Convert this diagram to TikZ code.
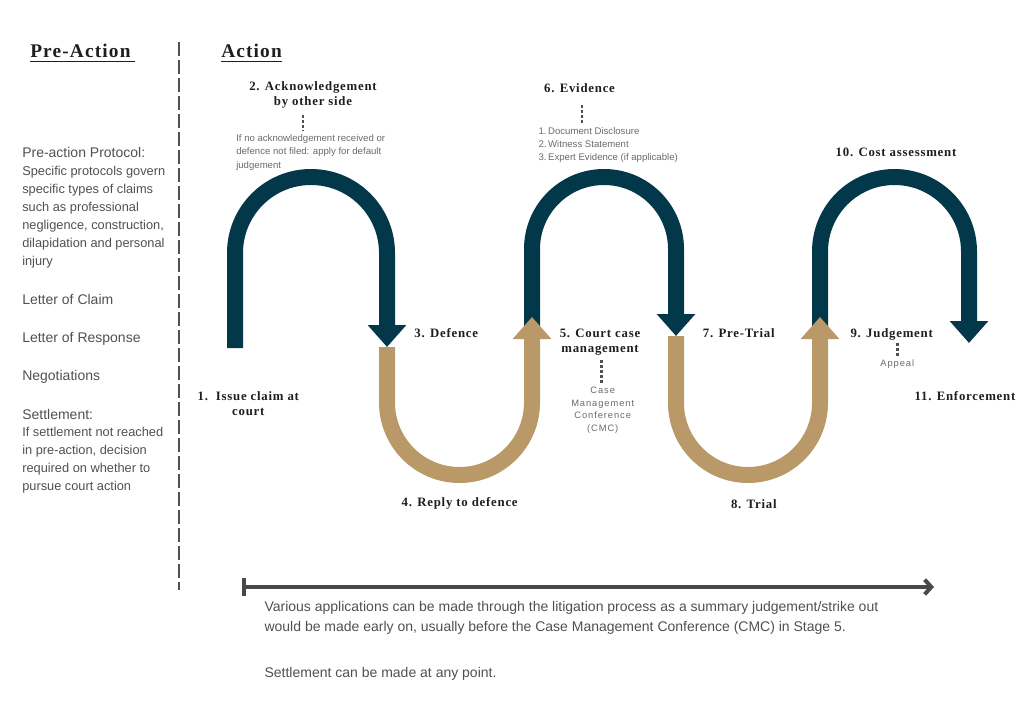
\documentclass[tikz,border=0pt]{standalone}
\usepackage{fontspec}
\setmainfont{Liberation Sans}
\newfontfamily\headfont[LetterSpace=6]{Liberation Serif}
\newfontfamily\notefont[LetterSpace=10]{Liberation Sans}
\usetikzlibrary{arrows.meta}
\definecolor{navy}{HTML}{03384A}
\definecolor{tan}{HTML}{B99967}
\definecolor{bodygray}{HTML}{505050}
\definecolor{notegray}{HTML}{6A6A6A}
\definecolor{ink}{HTML}{1E1E1E}

\begin{document}
\begin{tikzpicture}[x=0.75pt,y=-0.75pt,
	band/.style={line width=12pt,-{Triangle[length=16.5pt,width=28pt]}},
	stage/.style={font=\headfont\bfseries\fontsize{9.6}{11.25}\selectfont,text=ink,align=center,inner sep=0pt,anchor=base},
	heading/.style={font=\headfont\bfseries\fontsize{14.5}{17}\selectfont,text=ink,inner sep=0pt,anchor=base west},
	side/.style={font=\fontsize{9.6}{13.4}\selectfont,text=bodygray,align=left,inner sep=0pt,anchor=base west},
	sidetitle/.style={font=\fontsize{10.5}{13}\selectfont,text=bodygray,inner sep=0pt,anchor=base west},
	foot/.style={font=\fontsize{10.5}{15}\selectfont,text=bodygray,align=left,inner sep=0pt,anchor=base west},
	note/.style={font=\fontsize{7.2}{9.9}\selectfont,text=notegray,align=left,inner sep=0pt,anchor=base west},
	spaced/.style={font=\notefont\fontsize{7}{9.6}\selectfont,text=notegray,align=center,inner sep=0pt,anchor=base},
	dots/.style={draw=bodygray,line width=2.2pt,dash pattern=on 2.2pt off 1.5pt,shorten >=2.5pt},
	rule/.style={draw=ink,line width=1pt},
	divider/.style={draw=bodygray,line width=1.9pt,dash pattern=on 10.5pt off 3pt},
	timeline/.style={draw=bodygray!90!black,line width=3pt,{Bar[width=13.5pt]}-{Straight Barb[length=5pt,width=11pt]}}
]
	\useasboundingbox (0,0) rectangle (1024,724);

	\node[heading] (preaction) at (30,57.7) {Pre-Action};
	\node[heading] (action) at (221,57.7) {Action};
	\draw[rule] ([yshift=-2.5pt]preaction.south west) -- ([yshift=-2.5pt,xshift=3pt]preaction.south east);
	\draw[rule] ([yshift=-2.5pt]action.south west) -- ([yshift=-2.5pt]action.south east);

	\draw[divider] (179,42) -- (179,590);

	\node[sidetitle] (protocol) at (22,157.7) {Pre-action Protocol:};
	\node[side] (protocolbody) at (22,265) {Specific protocols govern\\specific types of claims\\such as professional\\negligence, construction,\\dilapidation and personal\\injury};
	\node[sidetitle] (claim) at (22,304) {Letter of Claim};
	\node[sidetitle] (response) at (22,342.3) {Letter of Response};
	\node[sidetitle] (negotiate) at (22,380.7) {Negotiations};
	\node[sidetitle] (settle) at (22,419) {Settlement:};
	\node[side] (settlebody) at (22,490.3) {If settlement not reached\\in pre-action, decision\\required on whether to\\pursue court action};

	\draw[band,navy] (235,348) -- (235,253) arc[start angle=180,end angle=360,radius=76] -- (387,347);
	\draw[band,navy] (532,326) -- (532,249) arc[start angle=180,end angle=360,radius=72] -- (676,336);
	\draw[band,navy] (820,330) -- (820,251.5) arc[start angle=180,end angle=360,radius=74.5] -- (969,343);
	\draw[band,tan] (387,347) -- (387,402.5) arc[start angle=180,end angle=0,radius=72.5] -- (532,317);
	\draw[band,tan] (676,336) -- (676,403) arc[start angle=180,end angle=0,radius=72] -- (820,317);

	\node[stage] (issue) at (248.3,415) {1.\ \ Issue claim at\\court};
	\node[stage] (ack) at (313,105) {2. Acknowledgement\\by other side};
	\node[note] (acknote) at (236,168) {If no acknowledgement received or\\defence not filed: apply for default\\judgement};
	\coordinate (ackdot) at (303,115);
	\draw[dots] (ackdot) -- (ackdot |- acknote.north);
	\node[stage] (defence) at (446.3,337.3) {3. Defence};
	\node[stage] (reply) at (459.7,506.7) {4. Reply to defence};
	\node[stage] (court) at (600,352.7) {5. Court case\\management};
	\node[spaced] (cmc) at (602.7,431.7) {Case\\Management\\Conference\\(CMC)};
	\coordinate (courtdot) at (601.7,360);
	\draw[dots] (courtdot) -- (courtdot |- cmc.north);
	\node[stage] (evidence) at (579.5,92.7) {6. Evidence};
	\node[note] (evidencenote) at (538.3,160.4) {1.\,Document Disclosure\\2.\,Witness Statement\\3.\,Expert Evidence (if applicable)};
	\coordinate (evidencedot) at (582,105);
	\draw[dots] (evidencedot) -- (evidencedot |- evidencenote.north);
	\node[stage] (pretrial) at (738.8,337.3) {7. Pre-Trial};
	\node[stage] (trial) at (753.8,508.3) {8. Trial};
	\node[stage] (judgement) at (891.7,337.3) {9. Judgement};
	\node[spaced] (appeal) at (897.3,366.7) {Appeal};
	\coordinate (judgedot) at (897.7,342.7);
	\draw[dots] (judgedot) -- (judgedot |- appeal.north);
	\node[stage] (cost) at (896,156) {10. Cost assessment};
	\node[stage] (enforce) at (965,400) {11. Enforcement};

	\coordinate (tlstart) at (241.7,587);
	\coordinate (tlend) at (934,587);
	\draw[timeline] (tlstart) -- (tlend);
	\node[foot] (apps) at (264.3,631.7) {Various applications can be made through the litigation process as a summary judgement/strike out\\would be made early on, usually before the Case Management Conference (CMC) in Stage 5.};
	\node[foot] (anypoint) at (264.3,677) {Settlement can be made at any point.};
\end{tikzpicture}
\end{document}
